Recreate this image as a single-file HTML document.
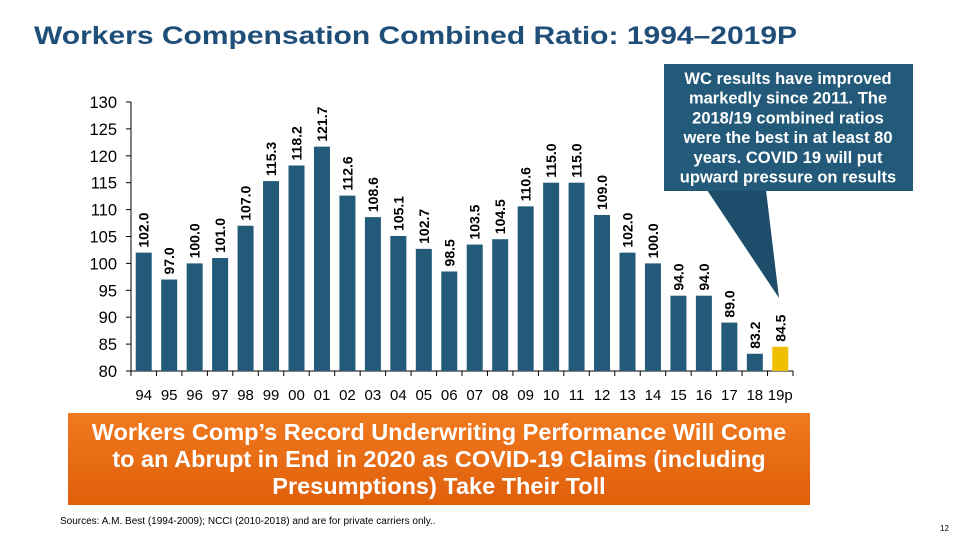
<!DOCTYPE html>
<html><head><meta charset="utf-8"><style>
body{margin:0;width:960px;height:540px;background:#fff;font-family:"Liberation Sans",Arial,sans-serif;overflow:hidden;position:relative}
.title{position:absolute;left:34px;top:22px;font-size:25px;font-weight:bold;color:#1f4e79;transform:scaleX(1.2);transform-origin:0 0;white-space:nowrap}
.orange{position:absolute;left:68px;top:413px;width:742px;height:92px;background:linear-gradient(#f07a20,#e05f0a);color:#fff;font-size:23.5px;font-weight:bold;text-align:center;line-height:27px;padding-top:6px;box-sizing:border-box;white-space:nowrap}
.src{position:absolute;left:60px;top:516px;font-size:10px;color:#000}
.pg{position:absolute;left:940px;top:524px;font-size:8px}
</style></head><body>
<div class="title">Workers Compensation Combined Ratio: 1994–2019P</div>
<svg id="chart" width="960" height="540" style="position:absolute;left:0;top:0"></svg>
<div class="orange">Workers Comp’s Record Underwriting Performance Will Come<br>to an Abrupt in End in 2020 as COVID-19 Claims (including<br>Presumptions) Take Their Toll</div>
<div class="src">Sources: A.M. Best (1994-2009); NCCI (2010-2018) and are for private carriers only..</div>
<div class="pg">12</div>
<script>
const categories=["94","95","96","97","98","99","00","01","02","03","04","05","06","07","08","09","10","11","12","13","14","15","16","17","18","19p"];
const values=[102.0,97.0,100.0,101.0,107.0,115.3,118.2,121.7,112.6,108.6,105.1,102.7,98.5,103.5,104.5,110.6,115.0,115.0,109.0,102.0,100.0,94.0,94.0,89.0,83.2,84.5];
const yTicks=[80,85,90,95,100,105,110,115,120,125,130];
const NS="http://www.w3.org/2000/svg";
const svg=document.getElementById('chart');
const x0=131,x1=793,yMin=80,yMax=130,py0=371,py1=102;
const bw=(x1-x0)/categories.length;
const y=v=>py0-(v-yMin)/(yMax-yMin)*(py0-py1);
const xc=i=>x0+bw*(i+0.5);
function mk(t,a){const e=document.createElementNS(NS,t);for(const k in a)e.setAttribute(k,a[k]);svg.appendChild(e);return e;}
let ax=mk('line',{x1:x0,x2:x0,y1:py1,y2:py0,stroke:'#000'});


let bx=mk('line',{x1:x0,x2:x1,y1:py0,y2:py0,stroke:'#000'});


yTicks.forEach(t=>{
  mk('line',{x1:x0-5,x2:x0,y1:y(t),y2:y(t),stroke:'#000'});
  const tx=mk('text',{x:x0-14,y:y(t)+6,'text-anchor':'end','font-size':16.5,fill:'#000'});
  tx.textContent=t;
  
  
});
categories.forEach((c,i)=>{
  mk('line',{x1:x0+bw*i,x2:x0+bw*i,y1:py0,y2:py0+5,stroke:'#000'});
  const b=mk('rect',{x:xc(i)-8,y:y(values[i]),width:16,height:py0-y(values[i]),fill:i==categories.length-1?'#f0c000':'#235a7a'});
  
  
  const l=mk('text',{x:0,y:0,'font-size':14,'font-weight':'bold',fill:'#000',transform:`translate(${xc(i)+5},${y(values[i])-5}) rotate(-90)`});
  l.textContent=values[i].toFixed(1);
  
  
  const cl=mk('text',{x:xc(i),y:400,'text-anchor':'middle','font-size':15,fill:'#000'});
  cl.textContent=c;
  
  
});
mk('line',{x1:x1,x2:x1,y1:py0,y2:py0+5,stroke:'#000'});
const ptr=mk('polygon',{points:'707,190 766,190 779,298',fill:'#1e4d6b'});


const box=mk('rect',{x:664,y:64,width:249,height:127,fill:'#235a7a'});


["WC results have improved","markedly since 2011.  The","2018/19 combined ratios","were the best in at least 80","years.  COVID 19 will put","upward pressure on results"].forEach((s,i)=>{
  const t=mk('text',{x:788,y:84+i*19.7,'text-anchor':'middle','font-size':16.5,'font-weight':'bold',fill:'#fff'});
  t.textContent=s;
  
  
});
</script>
</body></html>
